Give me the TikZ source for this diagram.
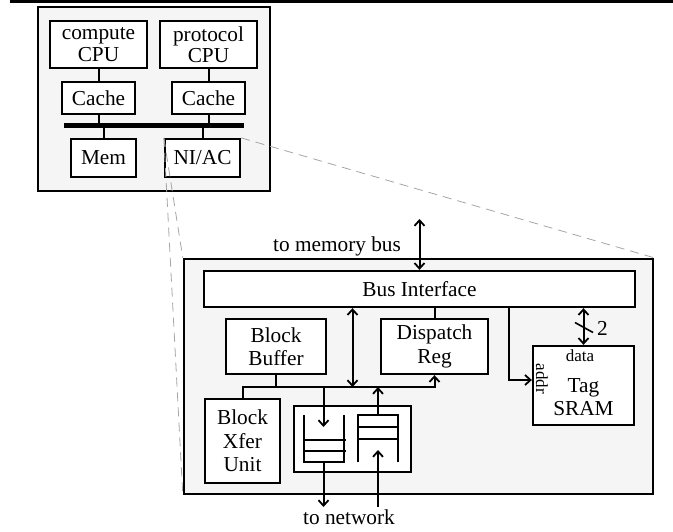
\documentclass[tikz,border=0pt]{standalone}
\usepackage{fontspec}
\setmainfont{Liberation Serif}
\usetikzlibrary{arrows.meta,calc}
\definecolor{panelfill}{RGB}{245,245,245}
\definecolor{zoomline}{RGB}{165,165,165}
\begin{document}
\begin{tikzpicture}[x=1pt,y=-1pt,
  font=\fontsize{21.3}{23.5}\selectfont,
  panel/.style={draw, fill=panelfill, line width=2.4pt, inner sep=0pt},
  blk/.style={draw, fill=white, line width=2.3pt, inner sep=0pt, align=center},
  wire/.style={line width=2pt},
  arr/.style={wire, -{Straight Barb[length=5.5pt,width=10pt,line width=1.8pt]}},
  darr/.style={wire, {Straight Barb[length=5.5pt,width=10pt,line width=1.8pt]}-{Straight Barb[length=5.5pt,width=10pt,line width=1.8pt]}},
  zoomdash/.style={draw=zoomline, line width=0.8pt, dash pattern=on 9pt off 6pt},
  lbl/.style={inner sep=0pt, align=center},
  smalllbl/.style={inner sep=0pt, font=\fontsize{17}{19}\selectfont}]
\useasboundingbox (0,0) rectangle (673,531);
% top rule
\fill (10,0) rectangle (673,2.7);

% ---------- top panel: node ----------
\node[panel, minimum width=232pt, minimum height=184pt] (top) at (154,99) {};
\node[blk, minimum width=97pt, minimum height=47pt] (ccpu) at (98.5,44.5) {compute\\[-2pt]CPU};
\node[blk, minimum width=97pt, minimum height=47pt] (pcpu) at (208.5,44.5) {protocol\\[-2pt]CPU};
\node[blk, minimum width=73pt, minimum height=32pt] (cache1) at (98.5,98) {Cache};
\node[blk, minimum width=73pt, minimum height=32pt] (cache2) at (208.5,98) {Cache};
\node[blk, minimum width=65pt, minimum height=38pt] (mem) at (103.5,158) {Mem};
\node[blk, minimum width=75pt, minimum height=38pt] (niac) at (202.5,158) {NI/AC};
\coordinate (busL) at (64,125.5);
\coordinate (busR) at (244,125.5);
\draw[line width=5pt] (busL) -- (busR);
\draw[wire] (ccpu) -- (cache1);
\draw[wire] (pcpu) -- (cache2);
\draw[wire] (cache1.south) -- (cache1.south |- busL);
\draw[wire] (cache2.south) -- (cache2.south |- busL);
\draw[wire] (mem.north) -- (mem.north |- busL);
\draw[wire] (niac.north) -- (niac.north |- busL);

% ---------- bottom panel: NI/AC ----------
\node[panel, minimum width=469pt, minimum height=235pt] (ni) at (418.5,376.5) {};
\node[blk, minimum width=431pt, minimum height=36pt] (bif) at (419.5,289) {Bus Interface};
\node[blk, minimum width=100pt, minimum height=55pt] (bbuf) at (276,346.5) {Block\\Buffer};
\node[blk, minimum width=107pt, minimum height=55pt] (dreg) at (434.5,346.5) {Dispatch\\Reg};
\node[blk, minimum width=101pt, minimum height=79pt] (tag) at (583.5,385.5) {};
\node[blk, minimum width=75pt, minimum height=84pt] (bxu) at (242.5,441) {Block\\Xfer\\Unit};
\node[blk, minimum width=117pt, minimum height=66pt] (qbox) at (352.5,439) {};

\node[lbl] (tagtxt) at (583.5,397) {Tag\\SRAM};
\node[smalllbl] (datatxt) at (580,356) {data};
\node[smalllbl, rotate=-90] (addrtxt) at (542,379) {addr};

% memory bus
\coordinate (membus) at (419.5,219);
\draw[darr] (membus) -- (bif.north);
\node[lbl] (membuslbl) at (337,246) {to memory bus};

% internal bus
\coordinate (bj) at (434.5,387);
\draw[arr] (bxu.north) |- (bj) -- (dreg.south);
\draw[wire] (bbuf.south) -- (bbuf.south |- bj);
\draw[darr] (bif.south -| qbox.north) -- (qbox.north |- bj);
\draw[wire] (dreg.north) -- (dreg.north |- bif.south);

% tag SRAM connections
\coordinate (addrpt) at (509,307);
\coordinate (addry) at (0,380);
\draw[arr] (addrpt) |- (tag.west |- addry);
\draw[darr] (tag.north |- bif.south) -- (tag.north);
\coordinate (slashmid) at (584,327.5);
\draw[wire, line width=1.6pt] ($(slashmid)+(-9,-5)$) -- ($(slashmid)+(9,5)$);
\node[lbl, anchor=west] (two) at (597,328) {2};

% queues
\draw[wire] (304,415) -- (304,462) -- (344,462) -- (344,415);
\draw[wire] (304,440) -- (345.5,440);
\draw[wire] (304,451) -- (345.5,451);
\draw[wire] (358,462) -- (358,415) -- (398,415) -- (398,462);
\draw[wire] (358,427) -- (398,427);
\draw[wire] (358,439) -- (398,439);

\coordinate (lqbus) at (323.5,387);
\coordinate (lqin) at (323.5,427);
\coordinate (lqout) at (323.5,462);
\coordinate (netout) at (323.5,507);
\coordinate (rqtop) at (378,415);
\coordinate (rqbus) at (378,387);
\coordinate (netin) at (378,507);
\coordinate (rqin) at (378,450);
\draw[arr] (lqbus) -- (lqin);
\draw[arr] (lqout) -- (netout);
\draw[arr] (rqtop) -- (rqbus);
\draw[arr] (netin) -- (rqin);
\node[lbl] (netlbl) at (349,517) {to network};

% zoom lines
\draw[zoomdash] (niac.north east) -- (ni.north east);
\draw[zoomdash] (niac.north west) -- (ni.north west);
\draw[zoomdash] (niac.north west) -- (ni.south west);
\end{tikzpicture}
\end{document}
